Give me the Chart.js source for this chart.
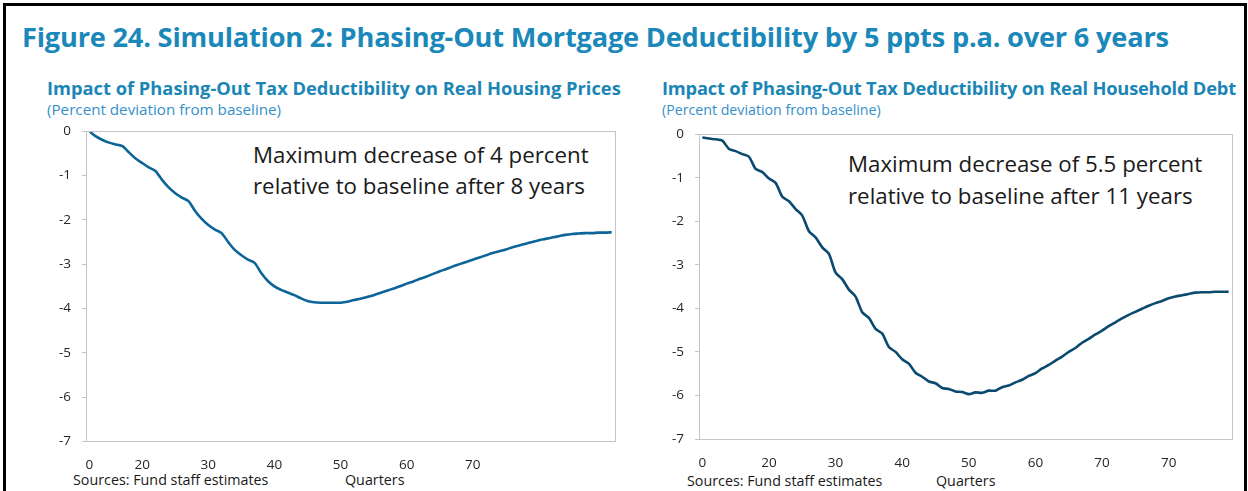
<!DOCTYPE html>
<html>
<head>
<meta charset="utf-8">
<script src="https://cdn.jsdelivr.net/npm/chart.js@4.4.1/dist/chart.umd.min.js"></script>
<style>
  body { margin: 0; width: 1248px; height: 491px; overflow: hidden; background: #fff; font-family: "Open Sans", sans-serif; }
  .frame { position: absolute; left: 3px; top: 3px; width: 1238px; height: 520px; border: 3px solid #000; }
  .txt { position: absolute; white-space: nowrap; line-height: 1; }
  .title { font-weight: bold; font-size: 27.2px; color: #1a88b9; letter-spacing: -0.2px; }
  .sub { font-weight: bold; font-size: 18.3px; color: #1b86b5; }
  .paren { font-size: 15.2px; color: #3590c8; }
  .note { font-size: 22.3px; color: #1a1a1a; }
  .foot { font-size: 14.3px; color: #1a1a1a; }
  canvas { position: absolute; }
</style>
</head>
<body>
<div class="frame"></div>
<div class="txt title" style="left:22px; top:23px;">Figure 24. Simulation 2: Phasing-Out Mortgage Deductibility by 5 ppts p.a. over 6 years</div>

<div class="txt sub" style="left:47px; top:79px;">Impact of Phasing-Out Tax Deductibility on Real Housing Prices</div>
<div class="txt paren" style="left:47px; top:102px;">(Percent deviation from baseline)</div>
<div class="txt sub" style="left:662px; top:79px; letter-spacing:-0.2px;">Impact of Phasing-Out Tax Deductibility on Real Household Debt</div>
<div class="txt paren" style="left:662px; top:102.5px; font-size:14.2px;">(Percent deviation from baseline)</div>

<div class="txt note" style="left:253px; top:144px;">Maximum decrease of 4 percent</div>
<div class="txt note" style="left:253px; top:175px;">relative to baseline after 8 years</div>
<div class="txt note" style="left:848px; top:153px;">Maximum decrease of 5.5 percent</div>
<div class="txt note" style="left:848px; top:185px;">relative to baseline after 11 years</div>

<div class="txt foot" style="left:73px; top:473px;">Sources: Fund staff estimates</div>
<div class="txt foot" style="left:345px; top:473px;">Quarters</div>
<div class="txt foot" style="left:687px; top:474px;">Sources: Fund staff estimates</div>
<div class="txt foot" style="left:936px; top:474px;">Quarters</div>

<canvas id="chartPrices" width="590" height="370" style="left:40px; top:112px;"></canvas>
<canvas id="chartDebt" width="596" height="365" style="left:650px; top:115px;"></canvas>

<script>
// real housing prices, % deviation from baseline, quarters 0..79
const housePrices = [
  0, -0.12, -0.2, -0.26, -0.3, -0.34, -0.48, -0.62, -0.72, -0.82,
  -0.9, -1.1, -1.27, -1.4, -1.5, -1.58, -1.8, -1.98, -2.12, -2.22,
  -2.3, -2.5, -2.68, -2.8, -2.9, -2.97, -3.2, -3.38, -3.5, -3.58,
  -3.64, -3.7, -3.77, -3.83, -3.86, -3.87, -3.87, -3.87, -3.87, -3.85,
  -3.81, -3.78, -3.74, -3.7, -3.65, -3.6, -3.55, -3.5, -3.44, -3.39,
  -3.33, -3.28, -3.22, -3.16, -3.11, -3.05, -3.0, -2.95, -2.9, -2.85,
  -2.8, -2.75, -2.71, -2.67, -2.62, -2.58, -2.54, -2.5, -2.46, -2.43,
  -2.4, -2.37, -2.34, -2.32, -2.31, -2.3, -2.3, -2.29, -2.29, -2.28
];

// real household debt, % deviation from baseline, quarters 0..79
const householdDebt = [
  -0.08, -0.1, -0.12, -0.15, -0.34, -0.39, -0.46, -0.52, -0.8, -0.87,
  -1.02, -1.12, -1.44, -1.54, -1.72, -1.87, -2.23, -2.37, -2.6, -2.75,
  -3.18, -3.33, -3.57, -3.73, -4.09, -4.22, -4.47, -4.58, -4.89, -5.0,
  -5.17, -5.27, -5.48, -5.57, -5.68, -5.72, -5.83, -5.85, -5.91, -5.92,
  -5.97, -5.93, -5.94, -5.89, -5.89, -5.81, -5.77, -5.7, -5.64, -5.55,
  -5.49, -5.38, -5.3, -5.2, -5.11, -5.0, -4.91, -4.79, -4.7, -4.6,
  -4.51, -4.41, -4.32, -4.23, -4.15, -4.08, -4.01, -3.94, -3.88, -3.83,
  -3.77, -3.73, -3.7, -3.67, -3.64, -3.63, -3.63, -3.62, -3.62, -3.62
];

// x tick labels as printed in the figure (category index -> label)
const pricesTickIdx = [0, 8, 18, 28, 38, 48, 58];
const pricesTickText = ['0', '20', '30', '40', '50', '60', '70'];
const debtTickIdx = [0, 10, 20, 30, 40, 50, 60, 70];
const debtTickText = ['0', '20', '30', '40', '50', '60', '70', '70'];

const yMin = -7, yMax = 0;

// light grey box round the plot area
const boxPlugin = {
  id: 'box',
  afterDraw(chart) {
    const a = chart.chartArea, ctx = chart.ctx;
    ctx.save();
    ctx.strokeStyle = '#c4c4c4';
    ctx.lineWidth = 1;
    ctx.strokeRect(Math.round(a.left) + 0.5, Math.round(a.top) + 0.5,
                   Math.round(a.right - a.left), Math.round(a.bottom - a.top));
    ctx.restore();
  }
};

function drawLine(id, values, tickIdx, tickText, color, yWidth, xHeight, pad) {
  const labels = values.map((v, i) => String(i));
  new Chart(document.getElementById(id), {
    type: 'line',
    data: {
      labels: labels,
      datasets: [{
        data: values,
        borderColor: color,
        borderWidth: 2.6,
        pointRadius: 0,
        tension: 0.25,
        fill: false
      }]
    },
    options: {
      responsive: false,
      animation: false,
      layout: { padding: pad },
      plugins: { legend: { display: false }, tooltip: { enabled: false } },
      scales: {
        x: {
          offset: true,
          grid: { display: false },
          border: { display: true, color: '#c4c4c4' },
          ticks: {
            autoSkip: false,
            maxRotation: 0,
            padding: 8,
            color: '#262626',
            font: { family: 'Open Sans', size: 13.5 },
            callback: (val, i) => {
              const k = tickIdx.indexOf(i);
              return k >= 0 ? tickText[k] : null;
            }
          },
          afterFit: s => { s.height = xHeight; }
        },
        y: {
          min: yMin,
          max: yMax,
          grid: { drawOnChartArea: false, drawTicks: true, tickLength: 4, color: '#c4c4c4' },
          border: { display: true, color: '#c4c4c4' },
          ticks: {
            stepSize: 1,
            padding: 11,
            color: '#262626',
            font: { family: 'Open Sans', size: 13.5 }
          },
          afterFit: s => { s.width = yWidth; }
        }
      }
    },
    plugins: [boxPlugin]
  });
}

drawLine('chartPrices', housePrices, pricesTickIdx, pricesTickText, '#0c6499', 46, 40.5,
         { top: 7, right: 15, left: 0, bottom: 0 });
drawLine('chartDebt', householdDebt, debtTickIdx, debtTickText, '#0b4a6f', 49, 41,
         { top: 7, right: 14, left: 0, bottom: 0 });
</script>
</body>
</html>
